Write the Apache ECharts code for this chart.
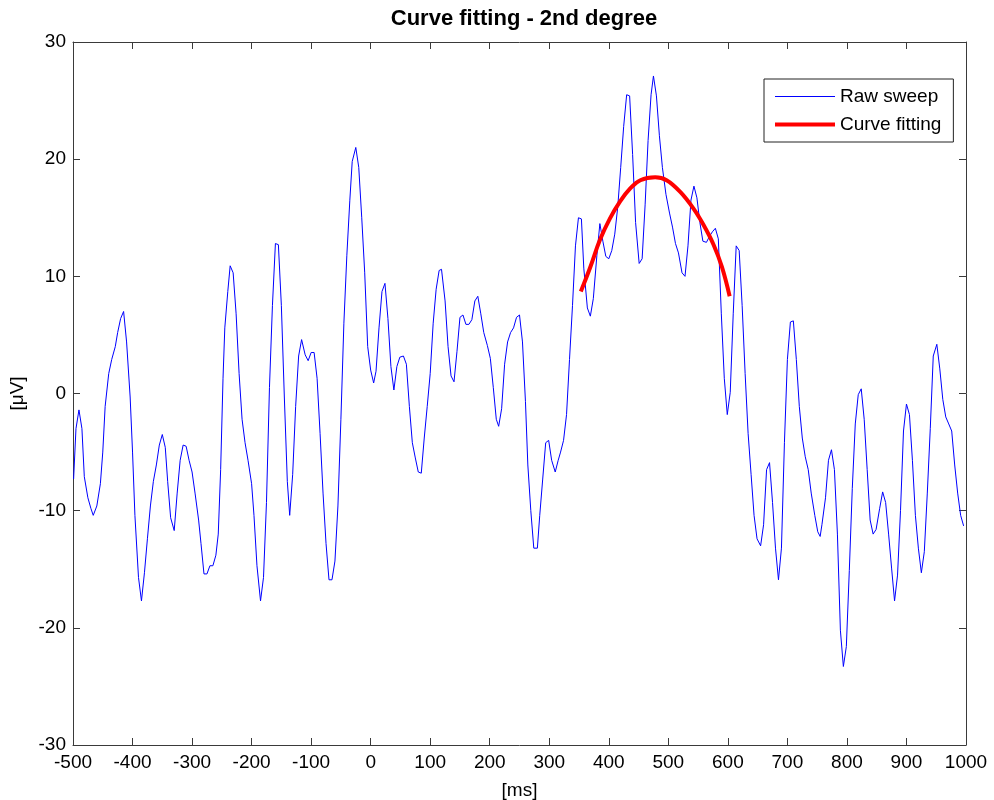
<!DOCTYPE html>
<html>
<head>
<meta charset="utf-8">
<title>Curve fitting - 2nd degree</title>
<script src="https://cdn.jsdelivr.net/npm/echarts@6/dist/echarts.min.js"></script>
<style>
  html, body { margin: 0; padding: 0; background: #fff; }
  #chart { width: 994px; height: 800px; }
</style>
</head>
<body>
<div id="chart"></div>
<script>
// Raw sweep: time (ms) and amplitude (µV)
const sweepMs = [
  -499, -495, -490, -485, -481, -475, -470, -466, -460, -454, -450, -446, -440, -435, -429, -425, -420, -415, -410, -404,
  -400, -396, -390, -385, -380, -375, -370, -365, -360, -355, -350, -345, -341, -336, -330, -325, -320, -315, -310, -305,
  -300, -295, -289, -285, -280, -275, -270, -265, -260, -256, -252, -248, -245, -240, -236, -231, -226, -221, -216, -211,
  -206, -200, -196, -191, -185, -180, -175, -170, -165, -160, -155, -150, -145, -140, -136, -131, -126, -121, -116, -110,
  -105, -100, -95, -90, -85, -80, -75, -70, -65, -60, -55, -50, -45, -40, -35, -31, -25, -20, -15, -10,
  -5, 0, 5, 9, 14, 19, 24, 29, 34, 39, 44, 49, 55, 60, 65, 70, 75, 80, 85, 90,
  95, 100, 105, 110, 115, 119, 125, 130, 135, 140, 145, 150, 155, 160, 165, 170, 175, 180, 185, 190,
  196, 201, 206, 211, 215, 220, 225, 230, 235, 240, 245, 250, 255, 260, 264, 269, 274, 280, 284, 289,
  294, 299, 304, 310, 315, 319, 324, 329, 334, 339, 344, 349, 354, 358, 364, 369, 374, 380, 385, 390,
  395, 400, 405, 410, 415, 420, 425, 430, 435, 440, 445, 451, 456, 461, 466, 471, 475, 480, 485, 490,
  496, 502, 507, 512, 517, 523, 528, 533, 538, 543, 548, 553, 558, 564, 569, 574, 579, 584, 589, 594,
  599, 604, 609, 614, 619, 624, 629, 634, 639, 644, 649, 655, 660, 665, 670, 675, 680, 685, 690, 695,
  700, 705, 710, 715, 720, 725, 730, 735, 740, 746, 751, 755, 758, 764, 769, 774, 779, 784, 789, 794,
  799, 804, 809, 814, 819, 824, 829, 834, 839, 844, 849, 855, 860, 865, 870, 875, 880, 885, 890, 895,
  900, 905, 910, 915, 920, 925, 930, 935, 940, 945, 951, 956, 961, 966, 971, 976, 981, 986, 991, 996
];
const sweepUv = [
  -7.3, -3.0, -1.4, -3.0, -7.1, -8.9, -9.8, -10.4, -9.6, -7.7, -5.0, -1.1, 1.7, 2.9, 4.0, 5.2, 6.4, 7.0, 4.4, -0.3,
  -5.0, -10.4, -15.7, -17.7, -15.3, -12.4, -9.6, -7.5, -6.1, -4.4, -3.5, -4.6, -7.5, -10.6, -11.7, -8.5, -5.7, -4.4, -4.5, -5.7,
  -6.7, -8.5, -10.8, -12.8, -15.4, -15.4, -14.7, -14.7, -13.8, -12.0, -6.5, 1.3, 5.6, 8.7, 10.9, 10.3, 6.8, 1.7, -2.2, -4.2,
  -5.7, -7.7, -10.4, -14.7, -17.7, -15.7, -9.3, 0.5, 7.5, 12.8, 12.7, 7.5, -0.3, -7.5, -10.4, -6.9, -1.1, 3.2, 4.6, 3.3,
  2.8, 3.5, 3.5, 1.3, -3.4, -8.5, -12.8, -15.9, -15.9, -14.3, -9.6, -2.2, 6.0, 11.8, 16.5, 19.8, 21.0, 19.3, 15.0, 10.3,
  4.0, 2.0, 0.9, 1.9, 5.6, 8.7, 9.4, 6.4, 2.3, 0.3, 2.3, 3.1, 3.2, 2.5, -1.1, -4.2, -5.5, -6.7, -6.8, -3.8,
  -1.1, 1.7, 6.0, 8.9, 10.5, 10.6, 7.9, 4.0, 1.5, 1.0, 3.6, 6.5, 6.7, 5.9, 5.9, 6.3, 7.9, 8.3, 6.8, 5.2,
  4.1, 3.0, 0.5, -2.2, -2.8, -1.3, 2.5, 4.4, 5.2, 5.6, 6.5, 6.7, 4.4, -0.7, -6.1, -10.0, -13.2, -13.2, -10.4, -7.3,
  -4.2, -4.0, -5.7, -6.7, -5.7, -5.0, -4.0, -1.8, 2.9, 7.5, 12.6, 15.0, 14.9, 10.7, 7.3, 6.6, 8.1, 11.8, 14.5, 13.0,
  11.7, 11.5, 12.2, 13.6, 15.9, 19.3, 22.8, 25.5, 25.4, 20.4, 14.6, 11.1, 11.5, 16.1, 21.6, 25.5, 27.1, 25.4, 22.0, 19.3,
  17.0, 15.4, 14.2, 12.8, 12.0, 10.3, 10.0, 12.6, 16.5, 17.7, 16.7, 14.6, 13.0, 12.9, 13.4, 13.8, 14.1, 13.2, 6.8, 1.3,
  -1.8, 0.1, 6.8, 12.6, 12.2, 7.5, 1.7, -3.4, -6.9, -10.4, -12.4, -13.0, -11.2, -6.5, -5.9, -9.3, -13.2, -15.9, -13.2, -4.2,
  2.9, 6.1, 6.2, 2.9, -1.1, -3.8, -5.4, -6.5, -8.5, -10.4, -11.8, -12.2, -11.2, -8.9, -5.7, -4.8, -6.5, -12.0, -20.2, -23.3,
  -21.6, -15.1, -8.1, -2.6, -0.1, 0.4, -2.2, -6.5, -10.8, -12.0, -11.6, -9.8, -8.4, -9.3, -12.0, -14.9, -17.7, -15.5, -10.0, -3.2,
  -0.9, -1.8, -5.7, -10.4, -13.2, -15.3, -13.5, -8.5, -3.0, 3.2, 4.2, 2.1, -0.5, -2.0, -2.6, -3.2, -6.1, -8.5, -10.4, -11.3
];

// Fitted 2nd-degree curve over the 350–600 ms window
const fitMs = [353, 369, 385, 402, 419, 436, 453, 478, 497, 520, 542, 559, 576, 590, 603];
const fitUv = [8.7, 10.8, 13.1, 14.95, 16.4, 17.5, 18.2, 18.45, 18.2, 17.2, 15.8, 14.4, 12.7, 10.8, 8.3];

const xTicks = { min: -500, max: 1000, step: 100 };
const yTicks = { min: -30, max: 30, step: 10 };

const FONT = '"Liberation Sans", Arial, Helvetica, sans-serif';
const AXIS_COLOR = '#3a3a3a';
const LABEL_SIZE = 19;

const zip = (xs, ys) => xs.map((x, i) => [x, ys[i]]);

const chart = echarts.init(document.getElementById('chart'), null, { renderer: 'canvas' });

const baseX = {
  type: 'value',
  min: xTicks.min, max: xTicks.max, interval: xTicks.step,
  axisLine: { show: true, onZero: false, lineStyle: { color: AXIS_COLOR, width: 1 } },
  axisTick: { show: true, inside: true, length: 7, lineStyle: { color: AXIS_COLOR } },
  splitLine: { show: false }
};
const baseY = {
  type: 'value',
  min: yTicks.min, max: yTicks.max, interval: yTicks.step,
  axisLine: { show: true, onZero: false, lineStyle: { color: AXIS_COLOR, width: 1 } },
  axisTick: { show: true, inside: true, length: 7, lineStyle: { color: AXIS_COLOR } },
  splitLine: { show: false }
};

chart.setOption({
  animation: false,
  backgroundColor: '#ffffff',
  title: {
    text: 'Curve fitting - 2nd degree',
    left: 519, top: 3, textAlign: 'center',
    textStyle: { fontFamily: FONT, fontSize: 22, fontWeight: 'bold', color: '#000' }
  },
  grid: { left: 73, right: 28, top: 42, bottom: 55, containLabel: false, outerBoundsMode: 'none' },
  legend: {
    orient: 'vertical',
    left: 764, top: 79,
    padding: [8, 12, 8, 11],
    itemGap: 9,
    itemWidth: 60, itemHeight: 14,
    borderColor: '#222', borderWidth: 1,
    backgroundColor: '#fff',
    textStyle: { fontFamily: FONT, fontSize: 19, color: '#000' },
    data: [
      { name: 'Raw sweep', icon: 'path://M0,0H60V1H0Z' },
      { name: 'Curve fitting', icon: 'path://M0,0H60V4H0Z' }
    ]
  },
  xAxis: [
    Object.assign({}, baseX, {
      position: 'bottom',
      name: '[ms]', nameLocation: 'middle', nameGap: 36,
      nameTextStyle: { fontFamily: FONT, fontSize: LABEL_SIZE, color: '#000' },
      axisLabel: { fontFamily: FONT, fontSize: LABEL_SIZE, color: '#000', margin: 8,
                   formatter: v => String(v) }
    }),
    Object.assign({}, baseX, { position: 'top', axisLabel: { show: false } })
  ],
  yAxis: [
    Object.assign({}, baseY, {
      position: 'left',
      name: '[μV]', nameLocation: 'middle', nameGap: 42, nameRotate: 90,
      nameTextStyle: { fontFamily: FONT, fontSize: LABEL_SIZE, color: '#000' },
      axisLabel: { fontFamily: FONT, fontSize: LABEL_SIZE, color: '#000', margin: 7 }
    }),
    Object.assign({}, baseY, { position: 'right', axisLabel: { show: false } })
  ],
  series: [
    {
      name: 'Raw sweep', type: 'line',
      data: zip(sweepMs, sweepUv),
      showSymbol: false, symbol: 'none',
      lineStyle: { color: '#0000ff', width: 1 },
      itemStyle: { color: '#0000ff' },
      z: 2
    },
    {
      name: 'Curve fitting', type: 'line',
      data: zip(fitMs, fitUv),
      smooth: 0.4,
      showSymbol: false, symbol: 'none',
      lineStyle: { color: '#ff0000', width: 4 },
      itemStyle: { color: '#ff0000' },
      z: 3
    }
  ]
});
</script>
</body>
</html>
